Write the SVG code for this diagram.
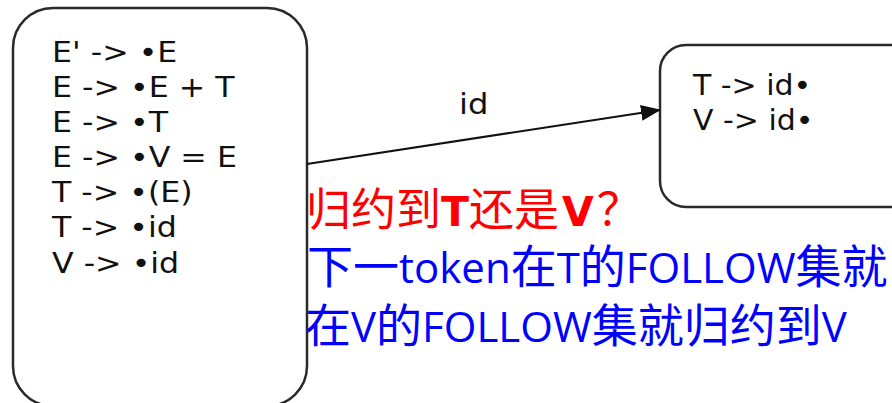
<svg xmlns="http://www.w3.org/2000/svg" width="892" height="403" viewBox="0 0 892 403">
<style>
.box{fill:#fff;stroke:#2a2a2a;stroke-width:2.5}
.item{font-family:"DejaVu Sans",sans-serif;font-size:28px;fill:#111}
.edge{stroke:#111;stroke-width:2.2;fill:none}
.cj{font-family:"Noto Sans CJK SC",sans-serif;font-size:46px}
.cjr{font-family:"Noto Sans CJK SC",sans-serif;font-size:45px}
.lt{font-family:"Open Sans",sans-serif;font-size:42px}
.bd{font-family:"DejaVu Sans",sans-serif;font-size:41px;font-weight:bold}
.red{fill:#ff0000}
.blue{fill:#0000ff}
</style>
<defs>
<marker id="arr" viewBox="0 0 20 16" refX="19" refY="8" markerWidth="20" markerHeight="16" markerUnits="userSpaceOnUse" orient="auto">
<path d="M0,0 L20,8 L0,16 Z" fill="#111"/>
</marker>
</defs>
<rect width="892" height="403" fill="#fff"/>
<g id="state0">
<rect class="box" x="13" y="8" width="294" height="398" rx="40" ry="40"/>
<g transform="translate(52,0) scale(1.13,1)">
<text class="item" x="0" y="62">E' -&gt; •E</text>
<text class="item" x="0" y="97">E -&gt; •E + T</text>
<text class="item" x="0" y="132">E -&gt; •T</text>
<text class="item" x="0" y="167">E -&gt; •V = E</text>
<text class="item" x="0" y="202">T -&gt; •(E)</text>
<text class="item" x="0" y="237">T -&gt; •id</text>
<text class="item" x="0" y="273">V -&gt; •id</text>
</g>
</g>
<g id="state1">
<rect class="box" x="660" y="45" width="270" height="162" rx="26" ry="26"/>
<g transform="translate(693,0) scale(1.07,1)">
<text class="item" x="0" y="95">T -&gt; id•</text>
<text class="item" x="0" y="130">V -&gt; id•</text>
</g>
</g>
<g id="edges">
<line class="edge" x1="307" y1="164" x2="660" y2="110" marker-end="url(#arr)"/>
<text class="item" transform="translate(459,114) scale(1.15,1)" x="0" y="0">id</text>
</g>
<g id="notes">
<text class="red" x="306" y="226"><tspan class="cjr">归约到</tspan><tspan class="bd">T</tspan><tspan class="cjr">还是</tspan><tspan class="bd" dx="3">V</tspan><tspan class="cjr" dx="3">？</tspan></text>
<text class="blue" x="307" y="283"><tspan class="cj">下一</tspan><tspan class="lt">token</tspan><tspan class="cj">在</tspan><tspan class="lt">T</tspan><tspan class="cj">的</tspan><tspan class="lt">FOLLOW</tspan><tspan class="cj">集就</tspan></text>
<text class="blue" x="305" y="342"><tspan class="cj">在</tspan><tspan class="lt">V</tspan><tspan class="cj">的</tspan><tspan class="lt">FOLLOW</tspan><tspan class="cj">集就归约到</tspan><tspan class="lt">V</tspan></text>
</g>
</svg>
